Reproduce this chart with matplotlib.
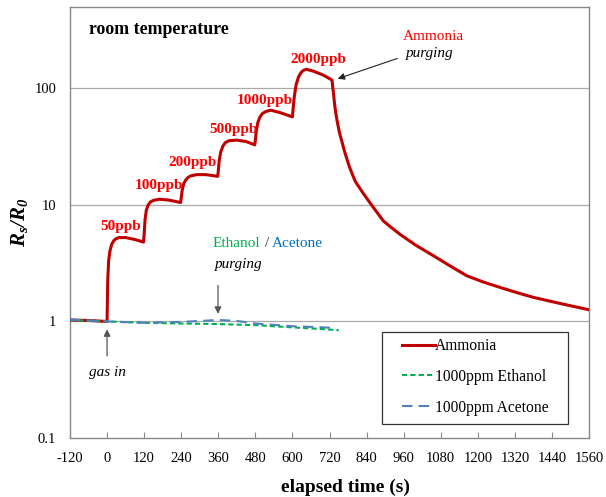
import matplotlib.pyplot as plt
from matplotlib.patches import Rectangle
import numpy as np

plt.rcParams['font.family'] = ['Liberation Serif', 'DejaVu Serif']
plt.rcParams['mathtext.fontset'] = 'custom'
plt.rcParams['mathtext.bfit'] = 'Liberation Serif:bold:italic'
plt.rcParams['mathtext.rm'] = 'Liberation Serif'
plt.rcParams['axes.unicode_minus'] = False

# Ammonia response (time in s, Rs/R0)
t_nh3 = [-120, -60, 0, 2, 5, 9, 15, 22, 30, 40, 60, 90, 118,
         120, 123, 127, 133, 140, 150, 170, 200, 238,
         240, 243, 248, 255, 263, 272, 290, 320, 358,
         360, 363, 368, 375, 383, 395, 420, 450, 478,
         480, 483, 488, 495, 503, 515, 530, 560, 600,
         602, 606, 612, 620, 628, 636, 645, 670, 700, 728,
         730, 733, 736, 740, 745, 752, 760, 770, 785, 803, 828, 856, 894,
         920, 948, 1000, 1056, 1110, 1164, 1218, 1272, 1326, 1380, 1470, 1560]
r_nh3 = [1.03, 1.02, 1.0, 2.2, 3.3, 4.0, 4.6, 4.95, 5.15, 5.25, 5.25, 5.05, 4.8,
         5.6, 7.5, 9.0, 10.0, 10.6, 10.95, 11.2, 11.0, 10.5,
         11.5, 13.3, 15.2, 16.4, 17.3, 17.8, 18.2, 18.2, 17.6,
         19.5, 24, 28.5, 32, 34.3, 35.6, 36, 35, 32.8,
         36, 43, 51, 57, 61, 63.5, 65, 62, 57,
         66, 85, 108, 126, 137, 143, 146, 140, 130, 118,
         105, 90, 75, 62, 52, 42, 35, 28, 21, 16, 12.7, 10, 7.3,
         6.4, 5.6, 4.5, 3.67, 3.0, 2.47, 2.18, 1.96, 1.77, 1.61, 1.42, 1.26]

# Ethanol and acetone (1000 ppm)
t_eth = [-120, 0, 120, 240, 360, 480, 600, 700, 750]
r_eth = [1.03, 1.0, 0.975, 0.96, 0.95, 0.93, 0.89, 0.86, 0.84]
t_ace = [-120, 0, 120, 240, 300, 360, 420, 480, 600, 680, 735]
r_ace = [1.04, 1.0, 0.975, 0.99, 1.01, 1.03, 1.01, 0.96, 0.91, 0.895, 0.88]

# concentration labels
conc_labels = ['50ppb', '100ppb', '200ppb', '500ppb', '1000ppb', '2000ppb']
conc_t = [45, 168, 278, 408, 511, 683]
conc_r = [6.5, 14.8, 23.3, 44.7, 79, 177]

xticks = np.arange(-120, 1561, 120)

fig = plt.figure(figsize=(6.06, 4.97), dpi=100)
ax = fig.add_axes([0.1155, 0.1187, 0.8565, 0.8673])

ax.plot(t_nh3, r_nh3, color='#C00000', lw=2.2, label='Ammonia', zorder=3)
ax.plot(t_eth, r_eth, color='#00B050', lw=1.5, ls=(0, (2.5, 1.5)), label='1000ppm Ethanol', zorder=4)
ax.plot(t_ace, r_ace, color='#4F81BD', lw=1.5, ls=(0, (5, 3)), label='1000ppm Acetone', zorder=4)

ax.set_yscale('log')
ax.set_ylim(0.1, 500)
ax.set_xlim(-120, 1560)
ax.set_xticks(xticks)
ax.set_yticks([0.1, 1, 10, 100])
ax.set_yticklabels(['0.1', '1', '10', '100'])
ax.minorticks_off()
ax.tick_params(axis='x', direction='in', length=4, color='#888888', labelsize=10.5, pad=10)
ax.tick_params(axis='y', length=0, labelsize=10.5, pad=10)
for yv in [1, 10, 100]:
    ax.axhline(yv, color='#AAAAAA', lw=0.9, zorder=1)
for s in ax.spines.values():
    s.set_color('#888888')
    s.set_linewidth(1.0)

ax.set_xlabel('elapsed time (s)', fontsize=14, fontweight='bold', va='center')
ax.xaxis.set_label_coords(0.53, -0.114)
ax.set_ylabel(r'$\mathbfit{R_s/R_0}$', fontsize=15, labelpad=3)

ax.text(0.037, 0.947, 'room temperature', transform=ax.transAxes, fontsize=12.8,
        fontweight='bold', va='center')

for lab, tt, rr in zip(conc_labels, conc_t, conc_r):
    ax.text(tt, rr, lab, color='#FF0000', fontsize=11, fontweight='bold', ha='center', va='center')

# Ammonia purging
ax.text(1055, 278, 'Ammonia', color='#FF0000', fontsize=11, ha='center', va='center')
ax.text(1045, 199, 'purging', fontsize=11, style='italic', ha='center', va='center')
ax.annotate('', xy=(738, 119), xytext=(948, 184),
            arrowprops=dict(arrowstyle='-|>', color='#222222', lw=0.8, mutation_scale=10))

# Ethanol / Acetone purging
ax.text(497, 4.64, 'Ethanol', color='#00B050', fontsize=11, ha='right', va='center')
ax.text(497, 4.64, ' / ', color='#333333', fontsize=11, ha='left', va='center')
ax.text(534, 4.64, 'Acetone', color='#0070C0', fontsize=11, ha='left', va='center')
ax.text(425, 3.07, 'purging', fontsize=11, style='italic', ha='center', va='center')
ax.annotate('', xy=(359, 1.10), xytext=(359, 2.15),
            arrowprops=dict(arrowstyle='-|>', color='#555555', lw=0.9, mutation_scale=10))

# gas in
ax.text(0, 0.366, 'gas in', fontsize=11, style='italic', ha='center', va='center')
ax.annotate('', xy=(0, 0.906), xytext=(0, 0.48),
            arrowprops=dict(arrowstyle='-|>', color='#555555', lw=0.9, mutation_scale=10))

# legend: box drawn separately so the inner padding can be wider than tall
ax.add_patch(Rectangle((0.601, 0.0325), 0.358, 0.2135, transform=ax.transAxes,
                       facecolor='white', edgecolor='#333333', lw=0.9, zorder=5))
leg = ax.legend(loc='upper left', bbox_to_anchor=(0.6397, 0.232), fontsize=11.2,
                frameon=False, handlelength=2.1, handletextpad=0.0,
                labelspacing=0.95, borderpad=0, borderaxespad=0)
leg.set_zorder(6)

fig.savefig('out.png', dpi=100)
